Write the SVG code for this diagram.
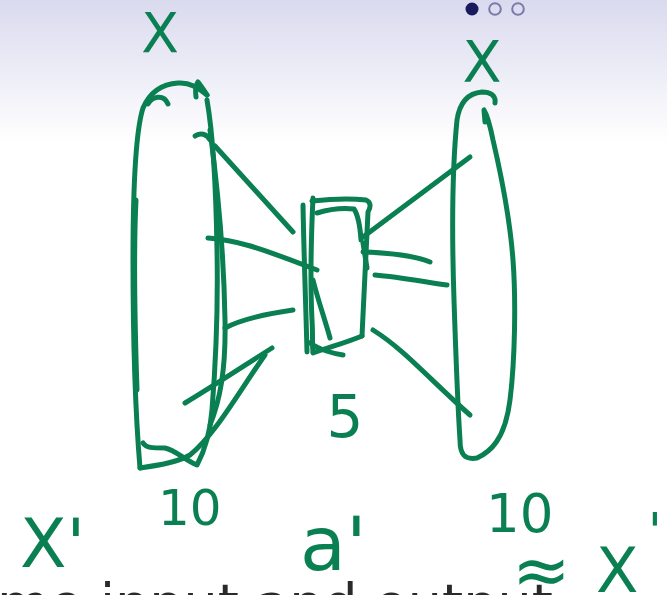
<svg xmlns="http://www.w3.org/2000/svg" width="667" height="595" viewBox="0 0 667 595">
<defs>
<linearGradient id="bg" x1="0" y1="0" x2="0" y2="1">
<stop offset="0" stop-color="#dadaef"/>
<stop offset="0.24" stop-color="#ffffff"/>
<stop offset="1" stop-color="#ffffff"/>
</linearGradient>
</defs>
<style>
.ink{fill:none;stroke:#0a8052;stroke-width:5;stroke-linecap:round;stroke-linejoin:round}
.lbl{fill:#0a8052;font-family:"DejaVu Sans","Liberation Sans",sans-serif}
.body{fill:#2a2a2a;font-family:"DejaVu Sans","Liberation Sans",sans-serif;font-size:54px}
</style>
<rect width="667" height="595" fill="url(#bg)"/>
<g id="nav">
<circle cx="472" cy="9" r="6.5" fill="#1a1a5e"/>
<circle cx="495" cy="9" r="5.8" fill="none" stroke="#7a7aa8" stroke-width="2"/>
<circle cx="518" cy="9" r="5.8" fill="none" stroke="#7a7aa8" stroke-width="2"/>
</g>
<g id="input-layer" class="ink">
<path d="M207,95 C198,88 190,82 178,83 C162,84 150,92 143,108 C136,130 133,180 133,260 C133,340 136,420 140,468"/>
<path d="M136,200 C133,260 135,330 137,390"/>
<path d="M140,468 C160,465 178,462 190,455 C215,435 240,390 265,355"/>
<path d="M143,443 C146,448 152,448 165,448 C175,450 185,460 197,465 C205,450 210,435 212,410 C216,360 218,300 217,250 C216,190 214,140 207,100"/>
<path d="M196,97 C195,90 196,85 198,82 C201,86 204,90 207,95"/>
<path d="M210,130 C218,190 224,260 225,320 C226,370 220,400 210,425"/>
<path d="M148,104 C152,96 164,94 168,104"/>
<path d="M195,136 C200,132 207,134 210,140"/>
</g>
<g id="code-layer" class="ink">
<path d="M303,205 C304,260 306,310 307,352"/>
<path d="M313,198 C311,240 310,280 312,320 C313,335 312,345 313,352"/>
<path d="M312,201 C330,199 350,198 366,200 C371,202 371,207 368,212 C366,260 364,300 362,336"/>
<path d="M317,213 C330,209 345,208 354,209 C358,215 360,225 361,240"/>
<path d="M313,353 C330,347 348,342 362,336"/>
<path d="M310,343 C320,350 335,354 343,355"/>
<path d="M313,280 C318,300 325,320 330,338"/>
</g>
<g id="output-layer" class="ink">
<path d="M495,103 C496,95 490,92 482,92 C470,93 460,100 457,120 C452,170 452,240 454,300 C456,360 458,410 460,440 C460,455 465,460 477,458 C490,452 505,440 510,400 C515,360 516,300 513,260 C510,220 500,170 493,140 C490,125 487,115 484,110 L485,122"/>
</g>
<g id="connectors" class="ink">
<path d="M215,146 L293,232"/>
<path d="M208,238 C235,240 255,246 317,270"/>
<path d="M225,328 C240,320 265,314 293,310"/>
<path d="M185,403 C215,385 245,365 272,348"/>
<path d="M363,237 L470,157"/>
<path d="M363,252 C395,253 415,256 430,262"/>
<path d="M375,275 C400,277 425,282 447,285"/>
<path d="M373,330 C405,350 430,380 470,415"/>
<path d="M363,243 L367,268"/>
</g>
<text class="body" x="-3" y="622">me input and output</text>
<g id="labels">
<text class="lbl" x="160" y="52" font-size="55" text-anchor="middle">X</text>
<text class="lbl" x="482" y="82" font-size="57" text-anchor="middle">X</text>
<text class="lbl" x="345" y="437" font-size="58" text-anchor="middle">5</text>
<text class="lbl" x="20" y="567" font-size="68">X'</text>
<text class="lbl" x="158" y="525" font-size="50">10</text>
<text class="lbl" x="300" y="570" font-size="75">a'</text>
<text class="lbl" x="486" y="532" font-size="53">10</text>
<text class="lbl" x="512" y="594" font-size="70">≈</text>
<text class="lbl" x="596" y="592" font-size="62">X</text>
<text class="lbl" x="648" y="548" font-size="50">'</text>
</g>
</svg>
